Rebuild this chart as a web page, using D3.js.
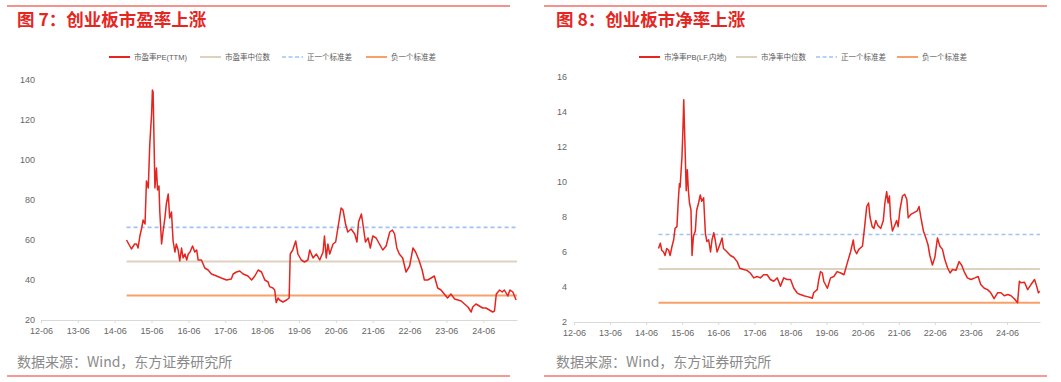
<!DOCTYPE html>
<html><head><meta charset="utf-8">
<script src="https://cdn.jsdelivr.net/npm/d3@7"></script>
<style>body{margin:0;background:#fff;} svg{display:block;}</style>
</head><body>
<svg id="chart" width="1061" height="382"></svg>
<script>
// ---------- DATA ----------
const tickLabels = ["12-06","13-06","14-06","15-06","16-06","17-06","18-06","19-06","20-06","21-06","22-06","23-06","24-06"];
const tickDates = ["2012-06-01","2013-06-01","2014-06-01","2015-06-01","2016-06-01","2017-06-01","2018-06-01","2019-06-01","2020-06-01","2021-06-01","2022-06-01","2023-06-01","2024-06-01"];

const peDates = ["2014-09-27","2014-11-14","2014-12-16","2015-01-04","2015-01-19","2015-02-06","2015-02-24","2015-03-10","2015-03-29","2015-04-12","2015-04-30","2015-05-15","2015-06-02","2015-06-10","2015-06-17","2015-07-05","2015-07-20","2015-07-31","2015-08-14","2015-08-22","2015-09-09","2015-09-23","2015-10-12","2015-10-26","2015-11-14","2015-11-28","2015-12-16","2016-01-01","2016-01-19","2016-02-02","2016-02-20","2016-03-07","2016-03-25","2016-04-09","2016-04-27","2016-05-15","2016-05-30","2016-06-17","2016-07-12","2016-08-03","2016-08-22","2016-09-05","2016-10-08","2016-11-10","2016-12-13","2017-01-15","2017-03-07","2017-04-23","2017-06-13","2017-07-31","2017-08-18","2017-09-20","2017-10-23","2017-11-25","2018-01-12","2018-02-17","2018-03-21","2018-04-23","2018-05-26","2018-06-28","2018-07-31","2018-08-14","2018-09-16","2018-10-04","2018-10-19","2018-11-06","2018-11-21","2018-12-24","2019-01-30","2019-02-24","2019-03-07","2019-04-01","2019-04-30","2019-05-22","2019-06-24","2019-07-27","2019-08-29","2019-09-16","2019-10-19","2019-11-21","2019-12-24","2020-01-26","2020-02-09","2020-02-27","2020-03-14","2020-04-01","2020-05-04","2020-05-30","2020-06-21","2020-07-23","2020-08-11","2020-09-05","2020-09-27","2020-10-30","2020-12-05","2020-12-27","2021-01-12","2021-02-09","2021-02-24","2021-03-21","2021-04-16","2021-05-08","2021-06-02","2021-07-05","2021-08-07","2021-09-09","2021-10-12","2021-11-17","2021-12-13","2022-01-04","2022-01-26","2022-02-20","2022-03-25","2022-04-27","2022-06-02","2022-07-05","2022-07-31","2022-09-02","2022-10-04","2022-10-26","2022-11-28","2023-01-01","2023-02-02","2023-03-07","2023-04-09","2023-05-11","2023-06-13","2023-07-16","2023-08-22","2023-09-23","2023-10-26","2023-11-28","2024-01-01","2024-02-02","2024-02-17","2024-03-21","2024-04-23","2024-05-26","2024-06-28","2024-07-31","2024-09-02","2024-09-20","2024-10-08","2024-11-10","2024-12-05","2024-12-27","2025-01-30","2025-02-20","2025-03-21","2025-04-22"];
const peValues = [60,55.5,58,58,56,62,66,70,68,89.5,86,108,123,135,134,86,96,85,87,74.5,58,64,71,78,83,71,74,59.5,54,58,55,49.5,56,51,53,50,53,54,57,54,55,50,50,46,45,43,42,41,40,40.5,43,44,44.5,43,42,40,42,45,44,40,39,36.7,36,35,28.7,31,30,29,30,31,53,55,59.5,53,50,49,50,55,51,53,50,54,62,51,58,53,58,59,66,76,75,68,64,65.5,63,59,69,73,68,59,61,56,62,61,58,55,57,64,65,63,56,53,51,44,47,56,54,50,45,40,40,41,42,36,35,33,31,33,30.5,30,29.5,28,26.5,24,26.5,28,27,26,26,25,24,24.5,33,35,34,35,32,35,34,30];
const peMedian = 49.3, pePlusStd = 66.3, peMinusStd = 32.3;

const pbDates = ["2014-10-04","2014-10-23","2014-11-06","2014-11-25","2014-12-09","2014-12-27","2015-01-15","2015-01-30","2015-02-17","2015-03-07","2015-03-21","2015-04-09","2015-04-23","2015-05-04","2015-05-11","2015-05-30","2015-06-10","2015-06-17","2015-06-28","2015-07-12","2015-07-23","2015-08-03","2015-08-14","2015-08-29","2015-09-09","2015-09-23","2015-10-12","2015-10-26","2015-11-14","2015-12-01","2015-12-16","2016-01-04","2016-01-22","2016-02-06","2016-02-24","2016-03-14","2016-03-29","2016-04-16","2016-04-30","2016-05-19","2016-06-02","2016-06-21","2016-07-09","2016-07-23","2016-08-11","2016-08-29","2016-10-01","2016-11-03","2016-12-09","2017-01-04","2017-02-13","2017-03-18","2017-04-20","2017-05-26","2017-06-28","2017-07-31","2017-09-02","2017-10-08","2017-11-10","2017-12-13","2018-01-19","2018-02-20","2018-03-25","2018-04-27","2018-06-02","2018-07-05","2018-08-07","2018-08-25","2018-09-09","2018-10-15","2018-11-17","2018-12-20","2019-01-08","2019-01-22","2019-02-27","2019-03-14","2019-04-01","2019-04-20","2019-05-04","2019-06-10","2019-07-12","2019-08-14","2019-09-16","2019-10-23","2019-11-25","2019-12-27","2020-01-30","2020-02-27","2020-03-10","2020-04-01","2020-04-23","2020-05-30","2020-06-21","2020-07-12","2020-07-31","2020-08-14","2020-09-05","2020-09-23","2020-10-12","2020-11-03","2020-12-01","2020-12-27","2021-01-12","2021-01-30","2021-02-13","2021-02-27","2021-03-10","2021-03-29","2021-04-20","2021-05-11","2021-05-26","2021-06-13","2021-07-09","2021-07-31","2021-08-22","2021-09-05","2021-10-01","2021-11-03","2021-12-05","2021-12-24","2022-01-12","2022-02-06","2022-03-03","2022-03-25","2022-04-12","2022-05-08","2022-06-02","2022-06-28","2022-07-23","2022-08-18","2022-09-09","2022-10-08","2022-11-03","2022-11-28","2023-01-01","2023-02-02","2023-02-27","2023-03-25","2023-04-27","2023-06-02","2023-07-12","2023-08-14","2023-09-09","2023-10-15","2023-11-17","2023-12-20","2024-01-22","2024-02-27","2024-04-01","2024-05-04","2024-06-10","2024-07-12","2024-08-14","2024-09-16","2024-10-04","2024-10-19","2024-11-25","2024-12-27","2025-01-30","2025-03-07","2025-03-28","2025-04-15","2025-04-28"];
const pbValues = [6.2,6.5,6.1,6.0,5.8,6.2,6.1,5.8,6.3,6.7,7.35,7.45,8.97,9.9,9.7,11.45,13.26,14.7,12.4,9.5,10.7,9.5,8.8,8.4,5.8,6.9,7.2,8.4,8.8,9.26,8.9,9.1,7.07,6.6,6.7,6.0,6.7,7.1,6.7,6.0,6.2,6.5,6.8,6.2,6.1,6.0,5.8,5.7,5.45,5.07,5.0,4.95,4.8,4.52,4.6,4.52,4.7,4.7,4.43,4.33,4.52,4.05,4.52,4.43,4.43,3.93,3.67,3.6,3.57,3.5,3.45,3.4,3.36,3.67,3.85,4.4,4.88,4.8,4.33,3.93,4.52,4.6,4.88,4.8,4.7,5.35,6.0,6.69,6.15,5.9,6.15,6.33,7.45,8.6,8.8,8.0,7.45,7.35,7.8,7.5,7.35,7.8,8.8,9.45,8.8,9.2,8.0,7.2,7.5,7.8,7.45,8.4,9.2,9.3,9.0,7.95,8.15,8.25,8.35,8.6,7.95,7.2,6.8,6.4,5.8,5.26,5.7,6.8,6.33,6.15,5.6,5.1,4.8,5.0,4.95,5.45,5.26,4.88,4.52,4.43,4.52,4.6,4.14,3.93,3.85,3.67,3.33,3.67,3.67,3.5,3.57,3.5,3.33,3.1,4.33,4.24,4.27,3.85,4.14,4.43,4.05,3.67,3.76];
const pbMedian = 5.03, pbPlusStd = 7.0, pbMinusStd = 3.1;

const peYTicks = [20,40,60,80,100,120,140];
const pbYTicks = [2,4,6,8,10,12,14,16];

// ---------- STYLE ----------
const RED = "#e5251f", BEIGE = "#ddd2bd", BLUE = "#9ec4f3", ORANGE = "#f8a06a";
const CJK = "'Noto Sans CJK SC', 'Noto Sans', sans-serif";
const LAT = "'Liberation Sans Narrow', 'Arial Narrow', 'Liberation Sans', sans-serif";
const parse = d3.timeParse("%Y-%m-%d");
const svg = d3.select("#chart");

function panel(cfg) {
  const g = svg.append("g");
  // frame lines
  g.append("line").attr("x1", cfg.frameX0).attr("x2", cfg.frameX1).attr("y1", 6).attr("y2", 6)
    .attr("stroke", "#ef6f69").attr("stroke-width", 1.5);
  g.append("line").attr("x1", cfg.frameX0).attr("x2", cfg.frameX1).attr("y1", 376).attr("y2", 376)
    .attr("stroke", "#f29a93").attr("stroke-width", 2);
  // title
  g.append("text").attr("x", cfg.titleX).attr("y", 26).text(cfg.title)
    .attr("font-family", CJK).attr("font-weight", "bold").attr("font-size", 17.5).attr("fill", "#e5261f");
  // source
  g.append("text").attr("x", cfg.titleX).attr("y", 367).text("数据来源：Wind，东方证券研究所")
    .attr("font-family", CJK).attr("font-size", 14).attr("fill", "#8a8a8a");

  const x = d3.scaleTime().domain([parse("2012-06-01"), parse("2025-05-01")]).range([cfg.x0, cfg.x1]);
  const y = d3.scaleLinear().domain([cfg.yTicks[0], cfg.yTicks[cfg.yTicks.length - 1]]).range([cfg.yBottom, cfg.yTop]);

  // x axis
  const xa = g.append("g").attr("transform", `translate(0,${cfg.yBottom})`)
    .call(d3.axisBottom(x).tickValues(tickDates.map(parse)).tickSize(3).tickSizeOuter(0)
      .tickFormat((d, i) => tickLabels[i]));
  xa.select(".domain").attr("stroke", "#d9d9d9");
  xa.selectAll(".tick line").attr("stroke", "#d9d9d9");
  xa.selectAll(".tick text").attr("font-family", LAT).attr("font-size", 9).attr("fill", "#666").attr("dy", "0.85em");

  // y axis
  const ya = g.append("g").attr("transform", `translate(${cfg.yLabelX},0)`)
    .call(d3.axisLeft(y).tickValues(cfg.yTicks).tickSize(0).tickPadding(0));
  ya.select(".domain").remove();
  ya.selectAll(".tick text").attr("font-family", LAT).attr("font-size", 9).attr("fill", "#666").attr("dy", "0.28em");

  const dates = cfg.dates.map(parse);
  const start = dates[0], end = x.domain()[1];
  const refLine = (v, color, w, dash) => g.append("line")
    .attr("x1", x(start)).attr("x2", x(end)).attr("y1", y(v)).attr("y2", y(v))
    .attr("stroke", color).attr("stroke-width", w).attr("stroke-dasharray", dash || null);
  refLine(cfg.median, BEIGE, 2);
  refLine(cfg.minus, ORANGE, 2);
  refLine(cfg.plus, BLUE, 1.6, "4,3");

  const line = d3.line().x((d, i) => x(dates[i])).y(d => y(d));
  g.append("path").datum(cfg.values).attr("d", line)
    .attr("fill", "none").attr("stroke", RED).attr("stroke-width", 1.5).attr("stroke-linejoin", "round");

  // legend
  const items = [
    {name: cfg.names[0], color: RED, w: 2},
    {name: cfg.names[1], color: BEIGE, w: 2},
    {name: cfg.names[2], color: BLUE, w: 1.6, dash: "4,2.5"},
    {name: cfg.names[3], color: ORANGE, w: 2}
  ];
  items.forEach((it, i) => {
    const lx = cfg.legendX[i];
    g.append("line").attr("x1", lx).attr("x2", lx + 21).attr("y1", 57).attr("y2", 57)
      .attr("stroke", it.color).attr("stroke-width", it.w).attr("stroke-dasharray", it.dash || null);
    g.append("text").attr("x", lx + 25).attr("y", 60).text(it.name)
      .attr("font-family", "'Liberation Sans', 'Noto Sans CJK SC', sans-serif").attr("font-size", 7.5).attr("fill", "#595959");
  });
}

panel({
  frameX0: 7, frameX1: 510, titleX: 17, title: "图 7：创业板市盈率上涨",
  x0: 41, x1: 517, yBottom: 320, yTop: 80, yLabelX: 35, yTicks: peYTicks,
  dates: peDates, values: peValues, median: peMedian, plus: pePlusStd, minus: peMinusStd,
  names: ["市盈率PE(TTM)", "市盈率中位数", "正一个标准差", "负一个标准差"],
  legendX: [109, 200, 282, 366]
});
panel({
  frameX0: 544, frameX1: 1047, titleX: 556, title: "图 8：创业板市净率上涨",
  x0: 574, x1: 1040, yBottom: 322, yTop: 77, yLabelX: 567, yTicks: pbYTicks,
  dates: pbDates, values: pbValues, median: pbMedian, plus: pbPlusStd, minus: pbMinusStd,
  names: ["市净率PB(LF,内地)", "市净率中位数", "正一个标准差", "负一个标准差"],
  legendX: [639, 736, 816, 897]
});
</script>
</body></html>
